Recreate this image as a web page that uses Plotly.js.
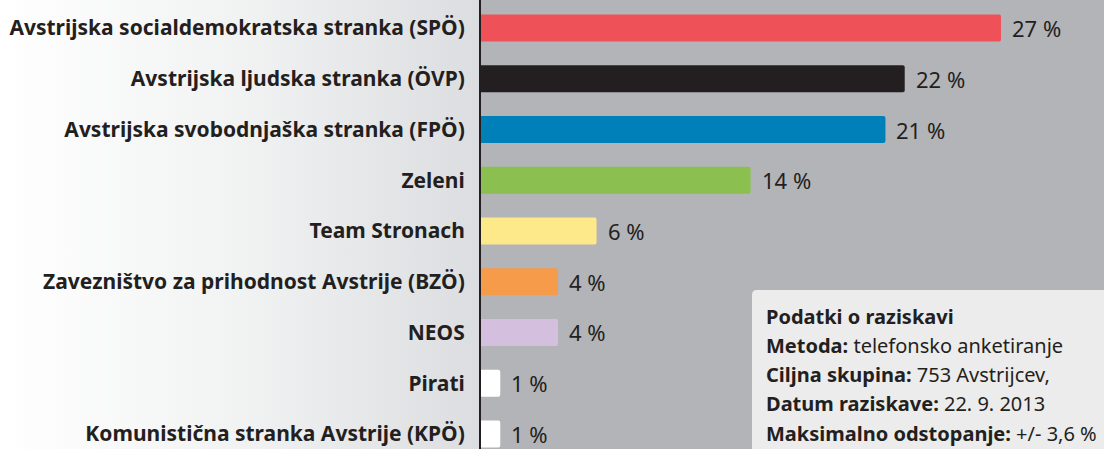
<!DOCTYPE html>
<html>
<head>
<meta charset="utf-8">
<script src="https://cdn.plot.ly/plotly-3.0.1.min.js"></script>
<style>
html,body{margin:0;padding:0;}
body{width:1104px;height:449px;background:linear-gradient(to right,#ffffff 0px,#f1f2f2 240px,#dcdde0 481px,#dcdde0 1104px);}
#chart{width:1104px;height:449px;}
</style>
</head>
<body>
<div id="chart"></div>
<script>
const parties = [
  "Avstrijska socialdemokratska stranka (SPÖ)",
  "Avstrijska ljudska stranka (ÖVP)",
  "Avstrijska svobodnjaška stranka (FPÖ)",
  "Zeleni",
  "Team Stronach",
  "Zavezništvo za prihodnost Avstrije (BZÖ)",
  "NEOS",
  "Pirati",
  "Komunistična stranka Avstrije (KPÖ)"
];
const shares = [27, 22, 21, 14, 6, 4, 4, 1, 1];
const valueLabels = ["27 %", "22 %", "21 %", "14 %", "6 %", "4 %", "4 %", "1 %", "1 %"];
const barColors = ["#ee5157", "#231f20", "#0080b9", "#8bbf4f", "#fde88a", "#f69b4a", "#d5bfdf", "#ffffff", "#ffffff"];
const infoTitle = "Podatki o raziskavi";
const infoKeys = ["Metoda:", "Ciljna skupina:", "Datum raziskave:", "Maksimalno odstopanje:"];
const infoValues = ["telefonsko anketiranje", "753 Avstrijcev,", "22. 9. 2013", "+/- 3,6 %"];

const FONT = "Noto Sans, Open Sans, sans-serif";
const TXT = "#231f20";

const trace = {
  type: "bar",
  orientation: "h",
  x: shares,
  y: parties,
  marker: {color: barColors, line: {width: 0}, cornerradius: 2},
  width: 0.53,
  hoverinfo: "x+y"
};

const annotations = parties.map((p, i) => ({
  x: shares[i], y: p, xref: "x", yref: "y",
  text: valueLabels[i], showarrow: false,
  xanchor: "left", yanchor: "middle", xshift: 9,
  font: {family: FONT, size: 22, color: TXT}
}));

const infoX = (764 - 481) / 623;
const infoY = [316, 345, 374, 403, 433];
annotations.push({
  x: infoX, y: 1 - infoY[0] / 449, xref: "paper", yref: "paper",
  text: "<b>" + infoTitle + "</b>", showarrow: false,
  xanchor: "left", yanchor: "middle",
  font: {family: FONT, size: 20, color: TXT}
});
infoKeys.forEach((k, i) => {
  annotations.push({
    x: infoX, y: 1 - infoY[i + 1] / 449, xref: "paper", yref: "paper",
    text: "<b>" + k + "</b> " + infoValues[i], showarrow: false,
    xanchor: "left", yanchor: "middle",
    font: {family: FONT, size: 20, color: TXT}
  });
});

const bx0 = (752 - 481) / 623, by1 = 1 - 290 / 449;
const rx = 5 / 623, ry = 5 / 449;
const layout = {
  width: 1104, height: 449,
  margin: {l: 481, r: 0, t: 0, b: 0, pad: 0},
  paper_bgcolor: "rgba(0,0,0,0)",
  plot_bgcolor: "#b3b4b8",
  showlegend: false,
  xaxis: {range: [0, 623 / 19.26], visible: false, fixedrange: true},
  yaxis: {
    type: "category", range: [8.296, -0.552], autorange: false,
    showline: true, linecolor: "#231f20", linewidth: 2,
    showgrid: false, zeroline: false, ticks: "",
    ticklabelstandoff: 10,
    tickfont: {family: FONT, size: 21, color: TXT, weight: "bold"}
  },
  shapes: [{
    type: "path", xref: "paper", yref: "paper",
    path: `M ${bx0},0 L ${bx0},${by1 - ry} Q ${bx0},${by1} ${bx0 + rx},${by1} L 1.01,${by1} L 1.01,-0.01 Z`,
    fillcolor: "#ececec", line: {width: 0}, layer: "above"
  }],
  annotations: annotations,
  font: {family: FONT}
};

Plotly.newPlot("chart", [trace], layout, {displayModeBar: false, staticPlot: true});
</script>
</body>
</html>
